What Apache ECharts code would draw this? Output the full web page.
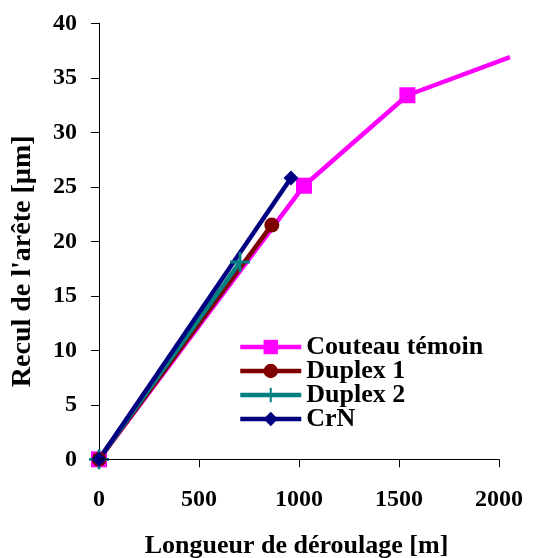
<!DOCTYPE html>
<html>
<head>
<meta charset="utf-8">
<script src="https://cdn.jsdelivr.net/npm/echarts@6/dist/echarts.min.js"></script>
<style>html,body{margin:0;padding:0;background:#fff}#c{width:535px;height:558px}</style>
</head>
<body>
<div id="c"></div>
<script>
const xTicks = [0, 500, 1000, 1500, 2000];
const seriesNames = ['Couteau témoin', 'Duplex 1', 'Duplex 2', 'CrN'];
const couteau = [[0, 0], [1025, 25.1], [1542, 33.4], [2055, 36.9]];
const duplex1 = [[0, 0], [864, 21.5]];
const duplex2 = [[0, 0], [705, 18.1]];
const crn = [[0, 0], [960, 25.8]];

const FONT = '"Liberation Serif","Times New Roman",serif';
const plusPath = 'path://M8.6,0h2.8v8.6h8.6v2.8h-8.6v8.6h-2.8v-8.6h-8.6v-2.8h8.6z';

const chart = echarts.init(document.getElementById('c'), null, {renderer: 'canvas'});
function lineSeries(name, data, color, symbol, size) {
  return {
    name: name, type: 'line', data: data.map((d, i) => (i === data.length - 1 && name === 'Couteau témoin') ? {value: d, symbol: 'none'} : d),
    symbol: symbol, symbolSize: size, showAllSymbol: true,
    lineStyle: {color: color, width: 4.5},
    itemStyle: {color: color},
    animation: false, clip: true, z: 2
  };
}
const series = [
  lineSeries(seriesNames[0], couteau, '#FF00FF', 'rect', 16),
  lineSeries(seriesNames[1], duplex1, '#800000', 'circle', 15),
  lineSeries(seriesNames[2], duplex2, '#008080', plusPath, 20),
  lineSeries(seriesNames[3], crn, '#000080', 'diamond', 15)
];
series[0].markLine = {
  silent: true, symbol: ['none', 'none'], animation: false,
  lineStyle: {color: '#000', width: 1, type: 'solid'}, label: {show: false},
  data: [[{coord: [xTicks[0], 0]}, {coord: [xTicks[xTicks.length - 1], 0]}]]
};
series[0].z = 1;

chart.setOption({
  animation: false,
  backgroundColor: '#fff',
  grid: {left: 99, right: 25, top: 23.3, bottom: 98.7, containLabel: false, outerBoundsMode: 'none'},
  legend: {
    orient: 'vertical', left: 238, top: 334, padding: 0,
    itemWidth: 61, itemHeight: 18, itemGap: -2,
    lineStyle: {width: 4.5},
    textStyle: {fontFamily: FONT, fontWeight: 'bold', fontSize: 26, color: '#000', lineHeight: 24},
    data: seriesNames
  },
  xAxis: {
    type: 'value', min: 0, max: 2055, interval: 500,
    axisLine: {show: false},
    axisTick: {show: true, length: 8, inside: false, lineStyle: {color: '#000'}, customValues: xTicks},
    axisLabel: {fontFamily: FONT, fontWeight: 'bold', fontSize: 24, color: '#000', margin: 28, customValues: xTicks, formatter: v => String(v)},
    splitLine: {show: false},
    name: 'Longueur de déroulage [m]', nameLocation: 'middle', nameGap: 74,
    nameTextStyle: {fontFamily: FONT, fontWeight: 'bold', fontSize: 26, color: '#000', padding: [0, 16, 0, 0]}
  },
  yAxis: {
    type: 'value', min: 0, max: 40, interval: 5,
    axisLine: {show: true, onZero: false, lineStyle: {color: '#000', width: 1}},
    axisTick: {show: true, length: 8, inside: false, lineStyle: {color: '#000'}},
    axisLabel: {fontFamily: FONT, fontWeight: 'bold', fontSize: 24, color: '#000', margin: 22, formatter: v => String(v)},
    splitLine: {show: false},
    name: 'Recul de l\'arête [µm]', nameLocation: 'middle', nameGap: 62, nameRotate: 90,
    nameTextStyle: {fontFamily: FONT, fontWeight: 'bold', fontSize: 28, color: '#000', padding: [0, 40, 0, 0]}
  },
  series: series
});
</script>
</body>
</html>
